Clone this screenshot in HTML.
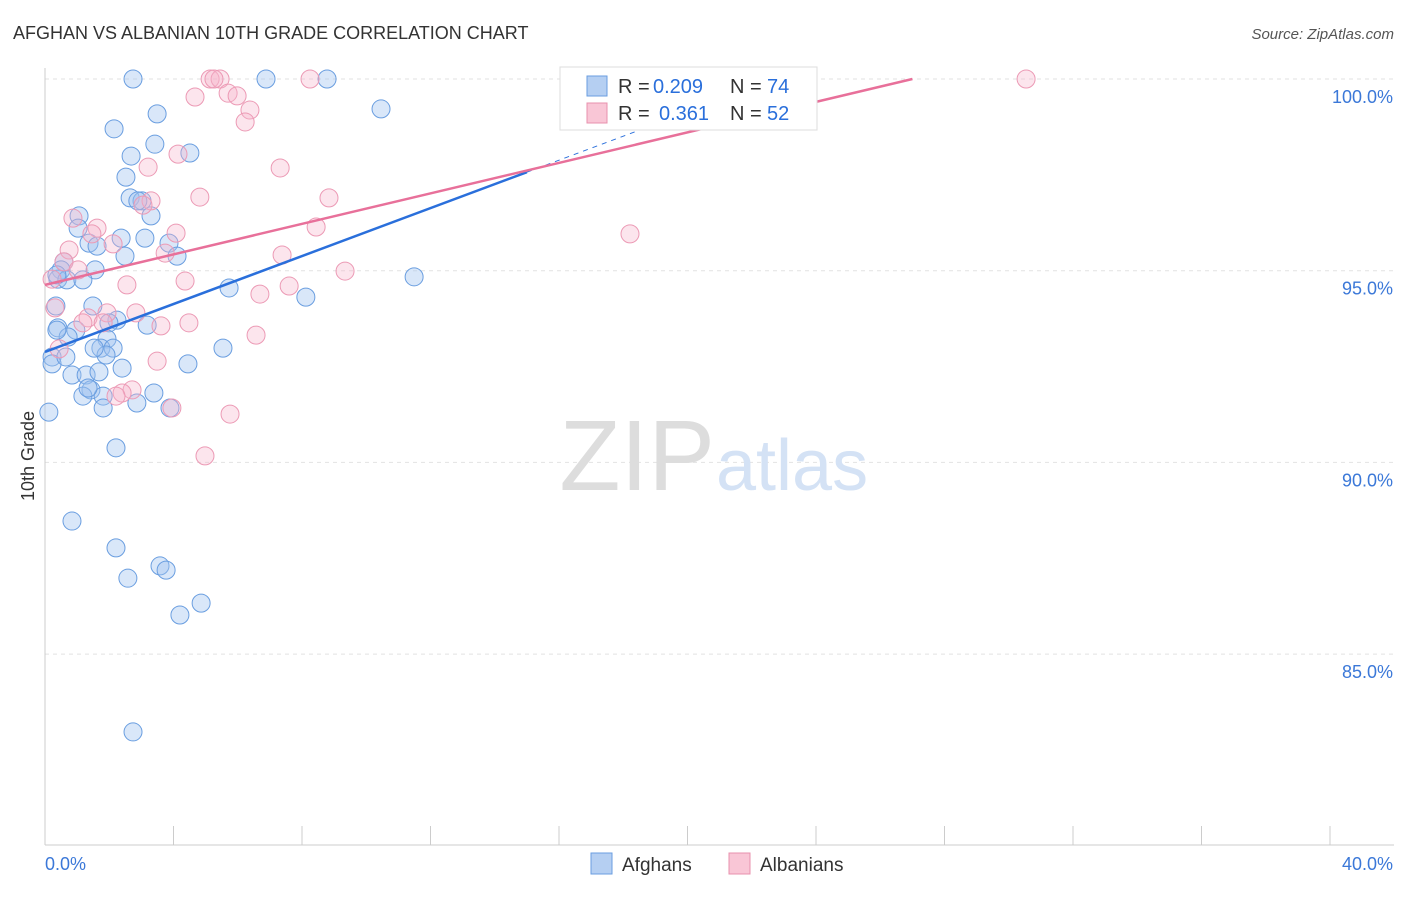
<!DOCTYPE html>
<html><head><meta charset="utf-8"><style>
body{margin:0;background:#fff;font-family:"Liberation Sans",sans-serif;}
svg text{font-family:"Liberation Sans",sans-serif;}
</style></head><body>
<svg id="chart" width="1406" height="892">
<text x="13" y="39" font-size="18" fill="#333">AFGHAN VS ALBANIAN 10TH GRADE CORRELATION CHART</text>
<text x="1394" y="39" font-size="15" fill="#555" font-style="italic" text-anchor="end">Source: ZipAtlas.com</text>
<text x="34" y="456" font-size="18" fill="#333" transform="rotate(-90 34 456)" text-anchor="middle">10th Grade</text>
<g id="grid"></g>
<text x="715" y="490" font-size="100" fill="#ddd" font-family="Liberation Serif" text-anchor="end">ZIP</text>
<text x="716" y="490" font-size="72" fill="#d4e2f5">atlas</text>
<g id="pts"></g>
<g id="lines"></g>
<g>
<rect x="560" y="67" width="257" height="63" fill="#fff" stroke="#ddd"/>
<rect x="587" y="76" width="20" height="20" fill="#b5cff2" stroke="#6a9ee0"/>
<rect x="587" y="103" width="20" height="20" fill="#f9c6d6" stroke="#e890ad"/>
<text x="618" y="93" font-size="20" fill="#333">R =</text>
<text x="653" y="93" font-size="20" fill="#2a6fdb">0.209</text>
<text x="730" y="93" font-size="20" fill="#333">N =</text>
<text x="767" y="93" font-size="20" fill="#2a6fdb">74</text>
<text x="618" y="120" font-size="20" fill="#333">R =</text>
<text x="659" y="120" font-size="20" fill="#2a6fdb">0.361</text>
<text x="730" y="120" font-size="20" fill="#333">N =</text>
<text x="767" y="120" font-size="20" fill="#2a6fdb">52</text>
</g>
<g>
<rect x="591" y="853" width="21" height="21" fill="#b5cff2" stroke="#6a9ee0"/>
<text x="622" y="871" font-size="19" fill="#333">Afghans</text>
<rect x="729" y="853" width="21" height="21" fill="#f9c6d6" stroke="#e890ad"/>
<text x="760" y="871" font-size="19" fill="#333">Albanians</text>
</g>
</svg>
<script>
const xTicks=[0,40];
const yTicks=[85,90,95,100];
const bluePx=[[133,79],[266,79],[327,79],[381,109],[157,114],[114,129],[155,144],[190,153],[131,156],[126,177],[130,198],[142,201],[151,216],[79,216],[78,228],[121,238],[145,238],[89,243],[97,246],[169,243],[125,256],[177,256],[64,262],[61,270],[95,270],[58,279],[67,280],[83,280],[414,277],[229,288],[306,297],[56,306],[93,306],[117,320],[147,325],[109,323],[58,328],[76,330],[68,337],[107,339],[101,348],[113,348],[223,348],[106,355],[52,357],[52,364],[188,364],[122,368],[72,375],[86,375],[99,372],[91,390],[83,396],[154,393],[103,396],[137,403],[103,408],[170,408],[49,412],[116,448],[72,521],[116,548],[128,578],[160,566],[166,570],[201,603],[180,615],[133,732],[57,330],[57,275],[88,388],[138,201],[94,348],[66,357]];
const pinkPx=[[210,79],[220,79],[310,79],[1026,79],[214,79],[195,97],[228,93],[237,96],[250,110],[245,122],[178,154],[148,167],[280,168],[200,197],[329,198],[151,201],[143,205],[73,218],[97,228],[176,233],[316,227],[630,234],[69,250],[113,244],[165,253],[282,255],[64,262],[345,271],[78,270],[185,281],[127,285],[260,294],[289,286],[55,308],[136,313],[107,313],[88,318],[83,323],[103,323],[161,326],[189,323],[256,335],[157,361],[59,349],[132,390],[122,393],[116,396],[172,408],[230,414],[205,456],[52,279],[92,234]];
const toVal=p=>[+((p[0]-45)/1285*40).toFixed(2),+(100-(p[1]-79)/38.34).toFixed(2)];
const afghanX=bluePx.map(p=>toVal(p)[0]), afghanY=bluePx.map(p=>toVal(p)[1]);
const albanianX=pinkPx.map(p=>toVal(p)[0]), albanianY=pinkPx.map(p=>toVal(p)[1]);
const blueTrend=[92.88,97.57];
const pinkTrend=[94.63,100];
const X=v=>45+v/40*1285, Y=v=>79+(100-v)*38.34;
const NS="http://www.w3.org/2000/svg";
function mk(tag,attrs,parent){const e=document.createElementNS(NS,tag);for(const k in attrs)e.setAttribute(k,attrs[k]);parent.appendChild(e);return e;}
const grid=document.getElementById('grid');
yTicks.forEach(t=>{
 const l=mk('line',{x1:45,x2:1394,y1:Y(t),y2:Y(t),stroke:'#e2e2e2','stroke-dasharray':'4,4'},grid);
 
 
 const tx=mk('text',{x:1393,y:Y(t)+24,'font-size':18,fill:'#3b78d8','text-anchor':'end'},grid);
 tx.textContent=t.toFixed(1)+'%';
 
 
});
mk('line',{x1:45,x2:45,y1:68,y2:845,stroke:'#ccc'},grid);
mk('line',{x1:45,x2:1394,y1:845,y2:845,stroke:'#ccc'},grid);
for(let i=0;i<=10;i++){mk('line',{x1:X(i*4),x2:X(i*4),y1:826,y2:845,stroke:'#ccc'},grid);}
xTicks.forEach((t,i)=>{
 const tx=mk('text',{x:i==0?45:1393,y:870,'font-size':18,fill:'#3b78d8','text-anchor':i==0?'start':'end'},grid);
 tx.textContent=t.toFixed(1)+'%';
 
 
});
const pts=document.getElementById('pts');
afghanX.forEach((x,i)=>{
 const c=mk('circle',{cx:X(x),cy:Y(afghanY[i]),r:9,fill:'rgba(160,195,240,0.4)',stroke:'#6a9ee0','stroke-width':1},pts);
 
 
});
albanianX.forEach((x,i)=>{
 const c=mk('circle',{cx:X(x),cy:Y(albanianY[i]),r:9,fill:'rgba(247,180,202,0.35)',stroke:'#ec9ab5','stroke-width':1},pts);
 
 
});
const lines=document.getElementById('lines');
const bs=(blueTrend[1]-blueTrend[0])/15;
const xTop=(100-blueTrend[0])/bs;
const bd=mk('line',{x1:X(15),y1:Y(blueTrend[1]),x2:X(xTop),y2:Y(100),stroke:'#2a6fdb','stroke-width':1,'stroke-dasharray':'5,5'},lines);


const bl=mk('line',{x1:X(0),y1:Y(blueTrend[0]),x2:X(15),y2:Y(blueTrend[1]),stroke:'#2a6fdb','stroke-width':2.5},lines);


const pl=mk('line',{x1:X(0),y1:Y(pinkTrend[0]),x2:X(27),y2:Y(pinkTrend[1]),stroke:'#e8709a','stroke-width':2.5},lines);


</script>
</body></html>
